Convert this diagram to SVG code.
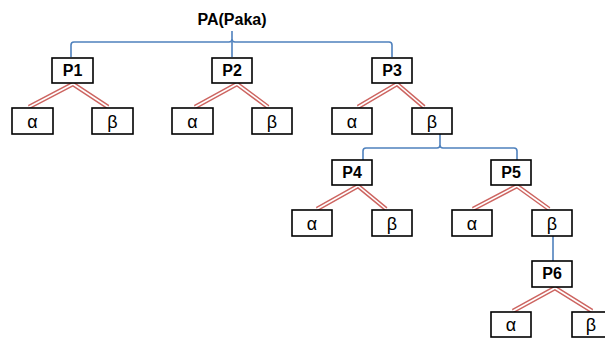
<svg xmlns="http://www.w3.org/2000/svg" width="605" height="339" viewBox="0 0 605 339">
<style>
.box{fill:#fff;stroke:#000;stroke-width:1.6}
.pl{font-family:"Liberation Sans",Arial,sans-serif;font-weight:bold;font-size:16px;text-anchor:middle;fill:#000}
.gl{font-family:"Liberation Sans",Arial,sans-serif;font-size:18px;text-anchor:middle;fill:#000}
.blue{fill:none;stroke:#4f81bd;stroke-width:1.6}
.rOut{fill:none;stroke:#cd6561;stroke-width:4.6}
.rIn{fill:none;stroke:#fff;stroke-width:1.6}
</style>
<rect width="605" height="339" fill="#fff"/>
<g id="connectors">
<path class="blue" d="M71,57 V45 Q71,42 74,42 H229 Q232,42 232,39 V31 M232,39 Q232,42 235,42 H389 Q392,42 392,45 V57 M232,42 V57"/>
<path class="blue" d="M440,134 V145 Q440,148 437,148 H366 Q363,148 363,151 V160 M440,145 Q440,148 443,148 H514 Q517,148 517,151 V160"/>
<path class="blue" d="M553,236 V261"/>
<path class="rOut" d="M29,107 L73,84 L108,107 M195,107 L237,84 L268,107 M358,107 L397,84 L424,107 M317,209 L358,186 L386,209 M473,209 L517,186 L549,209 M513,311 L555,288 L592,311"/>
<path class="rIn" d="M29,107 L73,84 L108,107 M195,107 L237,84 L268,107 M358,107 L397,84 L424,107 M317,209 L358,186 L386,209 M473,209 L517,186 L549,209 M513,311 L555,288 L592,311"/>
</g>
<g id="PA"><text class="pl" x="232" y="25">PA(Paka)</text></g>
<g id="P1"><rect class="box" x="52" y="58" width="41" height="25"/><text class="pl" x="72.5" y="76">P1</text></g>
<g id="P1a"><rect class="box" x="12" y="108" width="41" height="26"/><text class="gl" x="32.5" y="128">α</text></g>
<g id="P1b"><rect class="box" x="92" y="108" width="41" height="26"/><text class="gl" x="112.5" y="128">β</text></g>
<g id="P2"><rect class="box" x="212" y="58" width="40" height="25"/><text class="pl" x="232" y="76">P2</text></g>
<g id="P2a"><rect class="box" x="172" y="108" width="41" height="26"/><text class="gl" x="192.5" y="128">α</text></g>
<g id="P2b"><rect class="box" x="252" y="108" width="40" height="26"/><text class="gl" x="272" y="128">β</text></g>
<g id="P3"><rect class="box" x="372" y="58" width="40" height="25"/><text class="pl" x="392" y="76">P3</text></g>
<g id="P3a"><rect class="box" x="332" y="108" width="40" height="26"/><text class="gl" x="352" y="128">α</text></g>
<g id="P3b"><rect class="box" x="412" y="108" width="40" height="26"/><text class="gl" x="432" y="128">β</text></g>
<g id="P4"><rect class="box" x="332" y="160" width="40" height="25"/><text class="pl" x="352" y="178">P4</text></g>
<g id="P4a"><rect class="box" x="292" y="210" width="40" height="26"/><text class="gl" x="312" y="230">α</text></g>
<g id="P4b"><rect class="box" x="372" y="210" width="40" height="26"/><text class="gl" x="392" y="230">β</text></g>
<g id="P5"><rect class="box" x="491" y="160" width="40" height="25"/><text class="pl" x="511" y="178">P5</text></g>
<g id="P5a"><rect class="box" x="452" y="210" width="40" height="26"/><text class="gl" x="472" y="230">α</text></g>
<g id="P5b"><rect class="box" x="532" y="210" width="40" height="26"/><text class="gl" x="552" y="230">β</text></g>
<g id="P6"><rect class="box" x="532" y="261" width="40" height="26"/><text class="pl" x="552" y="279">P6</text></g>
<g id="P6a"><rect class="box" x="491" y="312" width="40" height="25"/><text class="gl" x="511" y="331">α</text></g>
<g id="P6b"><rect class="box" x="572" y="312" width="40" height="25"/><text class="gl" x="591" y="331">β</text></g>
</svg>
